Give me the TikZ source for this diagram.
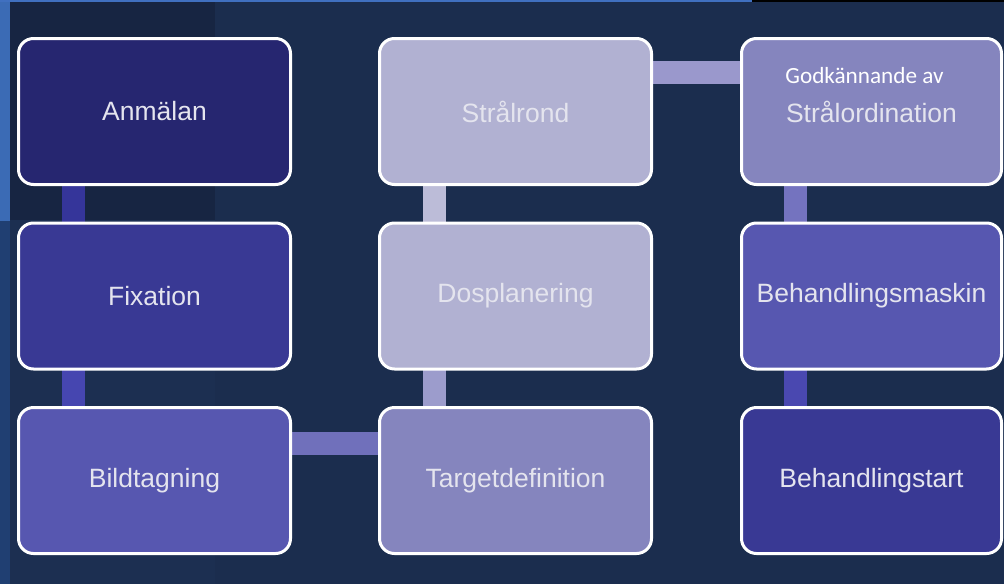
\documentclass[tikz,border=0pt]{standalone}
\usepackage{fontspec}
\setmainfont{Liberation Sans}
\newfontfamily\carlito{Carlito}
\definecolor{bg}{HTML}{1B2D4E}
\definecolor{bgdark}{HTML}{172542}
\definecolor{bglow}{HTML}{1C2F51}
\definecolor{stripA}{HTML}{3B6BB5}
\definecolor{stripB}{HTML}{203F72}
\definecolor{topstrip}{HTML}{4070C0}
\definecolor{txt}{HTML}{E4E4EE}
\definecolor{fAnm}{HTML}{262670}
\definecolor{fFix}{HTML}{393994}
\definecolor{fBild}{HTML}{5757B0}
\definecolor{fTarg}{HTML}{8585BE}
\definecolor{fLight}{HTML}{B1B1D2}
\definecolor{cA}{HTML}{35359A}
\definecolor{cB}{HTML}{4646B0}
\definecolor{cC}{HTML}{7070BB}
\definecolor{cD}{HTML}{9C9CCC}
\definecolor{cE}{HTML}{BCBCD8}
\definecolor{cF}{HTML}{9A98CC}
\definecolor{cG}{HTML}{7473BF}
\definecolor{cH}{HTML}{4A48B0}
\pgfdeclarelayer{bglayer}
\pgfdeclarelayer{connlayer}
\pgfsetlayers{bglayer,connlayer,main}
\begin{document}
\begin{tikzpicture}[x=1pt,y=-1pt,
  box/.style={draw=white, line width=3pt, rounded corners=15pt,
    minimum width=272pt, minimum height=146pt, inner sep=0pt, outer sep=0pt,
    text=txt, font=\fontsize{26.5}{30}\selectfont},
  widebox/.style={box, minimum width=260pt},
  conn/.style={line width=23pt}]
\useasboundingbox (0,0) rectangle (1004,584);
% background
\begin{pgfonlayer}{bglayer}
\fill[bg] (0,0) rectangle (1004,584);
\fill[bgdark] (10,2) rectangle (215,220);
\fill[bglow] (10,220) rectangle (215,584);
\fill[stripA] (0,0) rectangle (10,221);
\fill[stripB] (0,221) rectangle (10,584);
\fill[topstrip] (0,0) rectangle (752,2);
\fill[black] (752,0) rectangle (1004,2);
\end{pgfonlayer}
% boxes
\node[box, fill=fAnm] (anm) at (154.5,111.5) {Anmälan};
\node[box, fill=fFix] (fix) at (154.5,296) {Fixation};
\node[box, fill=fBild] (bild) at (154.5,480.5) {Bildtagning};
\node[box, fill=fLight] (str) at (515.5,111.5) {Strålrond};
\node[box, fill=fLight] (dos) at (515.5,296) {Dosplanering};
\node[box, fill=fTarg] (targ) at (515.5,480.5) {Targetdefinition};
\node[widebox, fill=fTarg] (god) at (871.5,111.5) {Strålordination};
\node[widebox, fill=fBild] (bmask) at (871.5,296) {Behandlingsmaskin};
\node[widebox, fill=fFix] (bstart) at (871.5,480.5) {Behandlingstart};
\node[font=\carlito\fontsize{23.2}{26}\selectfont, text=white, anchor=base, inner sep=0pt]
  (godlbl) at ([xshift=-7pt,yshift=28.5pt]god.center) {Godkännande av};
% connectors (behind boxes)
\begin{pgfonlayer}{connlayer}
\draw[conn, cA] ([xshift=55pt]anm.south west) -- ([xshift=55pt]fix.north west);
\draw[conn, cB] ([xshift=55pt]fix.south west) -- ([xshift=55pt]bild.north west);
\draw[conn, cC] ([yshift=-36pt]bild.north east) -- ([yshift=-36pt]targ.north west);
\draw[conn, cD] ([xshift=55pt]targ.north west) -- ([xshift=55pt]dos.south west);
\draw[conn, cE] ([xshift=55pt]dos.north west) -- ([xshift=55pt]str.south west);
\draw[conn, cF] ([yshift=-34pt]str.north east) -- ([yshift=-34pt]god.north west);
\draw[conn, cG] ([xshift=54pt]god.south west) -- ([xshift=54pt]bmask.north west);
\draw[conn, cH] ([xshift=54pt]bmask.south west) -- ([xshift=54pt]bstart.north west);
\end{pgfonlayer}
\end{tikzpicture}
\end{document}
